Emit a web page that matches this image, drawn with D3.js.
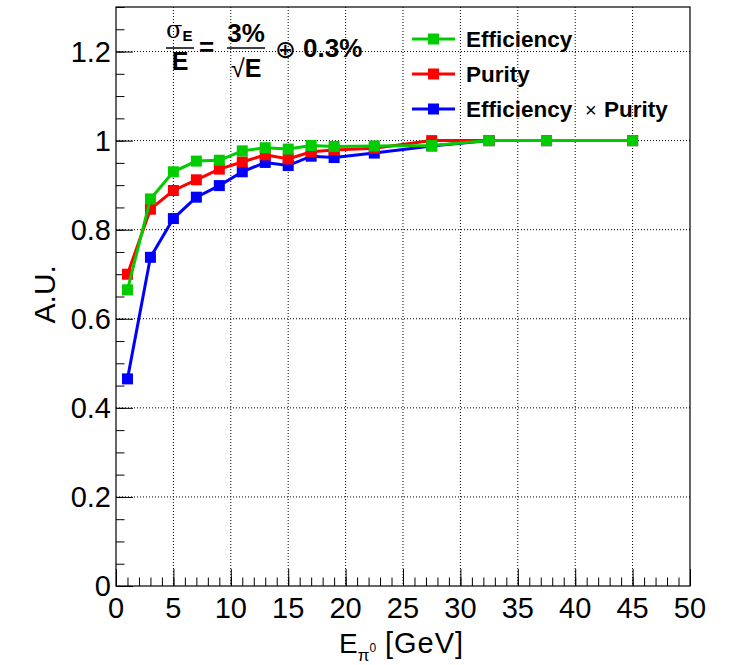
<!DOCTYPE html>
<html>
<head>
<meta charset="utf-8">
<script src="https://cdn.jsdelivr.net/npm/d3@7"></script>
<style>
  body { margin: 0; background: #fff; }
  svg { display: block; font-family: "Liberation Sans", Arial, Helvetica, sans-serif; }
</style>
</head>
<body>
<div class="chart"></div>
<script>
// values
const energy     = [1, 3, 5, 7, 9, 11, 13, 15, 17, 19, 22.5, 27.5, 32.5, 37.5, 45];
const efficiency = [0.665, 0.869, 0.930, 0.954, 0.956, 0.977, 0.984, 0.981, 0.989, 0.987, 0.988, 0.989, 1, 1, 1];
const purity     = [0.700, 0.846, 0.888, 0.912, 0.936, 0.952, 0.968, 0.959, 0.975, 0.979, 0.983, 1.0, 1, 1, 1];
const effPurity  = [0.465, 0.738, 0.825, 0.873, 0.899, 0.930, 0.951, 0.944, 0.965, 0.962, 0.972, 0.988, 1, 1, 1];

const xTicks = [0, 5, 10, 15, 20, 25, 30, 35, 40, 45, 50];
const yTicks = [0, 0.2, 0.4, 0.6, 0.8, 1, 1.2];
const legendLabels = ["Efficiency", "Purity", "Efficiency × Purity"];

const width = 734;
const height = 665;
const margin = { top: 7, right: 44, bottom: 79, left: 116 };
const innerWidth = width - margin.left - margin.right;
const innerHeight = height - margin.top - margin.bottom;

// drawing order: green ends up on top
const series = [
    { name: legendLabels[2], values: effPurity, color: "#0000ff" },
    { name: legendLabels[1], values: purity, color: "#ff0000" },
    { name: legendLabels[0], values: efficiency, color: "#00cc00" },
];

const xScale = d3.scaleLinear().domain([0, 50]).range([0, innerWidth]);
const yScale = d3.scaleLinear().domain([0, 1.3]).range([innerHeight, 0]);

const svg = d3.select("div.chart")
    .append("svg")
    .attr("width", width)
    .attr("height", height);

const g = svg.append("g").attr("transform", `translate(${margin.left},${margin.top})`);

// dotted grid
const grid = g.append("g").attr("class", "grid");
grid.selectAll("line.gx").data(xTicks.slice(1, -1)).join("line").attr("class", "gx")
    .attr("x1", d => xScale(d)).attr("x2", d => xScale(d))
    .attr("y1", 0).attr("y2", innerHeight);
grid.selectAll("line.gy").data(yTicks.slice(1)).join("line").attr("class", "gy")
    .attr("x1", 0).attr("x2", innerWidth)
    .attr("y1", d => yScale(d)).attr("y2", d => yScale(d));
grid.selectAll("line")
    .attr("stroke", "#000").attr("stroke-width", 1).attr("stroke-dasharray", "1,2");

// ticks point inwards like ROOT; minor first, then major
function ticksOnly(axis, values, size) {
    return a => a.call(axis.tickValues(values).tickSize(-size).tickFormat(""))
        .call(s => s.select(".domain").remove())
        .call(s => s.selectAll("text").remove())
        .call(s => s.selectAll("line").attr("stroke", "#000"));
}
g.append("g").attr("transform", `translate(0,${innerHeight})`)
    .call(ticksOnly(d3.axisBottom(xScale), d3.range(0, 51, 1), 8.5));
g.append("g")
    .call(ticksOnly(d3.axisLeft(yScale), d3.range(0, 27).map(i => i * 0.05), 8.5));
g.append("g").attr("transform", `translate(0,${innerHeight})`)
    .call(ticksOnly(d3.axisBottom(xScale), xTicks, 17));
g.append("g")
    .call(ticksOnly(d3.axisLeft(yScale), yTicks, 17));

// tick labels
const fmt = d3.format("~g");
g.append("g").selectAll("text").data(xTicks).join("text")
    .attr("x", d => xScale(d))
    .attr("y", innerHeight + 32)
    .attr("text-anchor", "middle")
    .attr("font-size", 29)
    .text(fmt);
g.append("g").selectAll("text").data(yTicks).join("text")
    .attr("x", -5)
    .attr("y", d => yScale(d) + 10)
    .attr("text-anchor", "end")
    .attr("font-size", 29)
    .text(fmt);

// frame
g.append("rect")
    .attr("width", innerWidth).attr("height", innerHeight)
    .attr("fill", "none").attr("stroke", "#000").attr("stroke-width", 1.2);

// series
const line = d3.line().x((d, i) => xScale(energy[i])).y(d => yScale(d));
const marker = 11;
series.forEach(s => {
    g.append("path")
        .datum(s.values)
        .attr("d", line)
        .attr("fill", "none")
        .attr("stroke", s.color)
        .attr("stroke-width", 3);
    g.append("g").selectAll("rect").data(s.values).join("rect")
        .attr("x", (d, i) => xScale(energy[i]) - marker / 2)
        .attr("y", d => yScale(d) - marker / 2)
        .attr("width", marker).attr("height", marker)
        .attr("fill", s.color);
});

// axis titles
svg.append("text")
    .attr("transform", `translate(55,${margin.top + yScale(0.655)}) rotate(-90)`)
    .attr("text-anchor", "middle")
    .attr("font-size", 30)
    .text("A.U.");

const xt = svg.append("text")
    .attr("x", 339).attr("y", 653)
    .attr("font-size", 28);
xt.append("tspan").text("E");
xt.append("tspan").attr("font-size", 17).attr("dy", 8).text("π");
xt.append("tspan").attr("font-size", 12).attr("dy", -9).text("0");
svg.append("text")
    .attr("x", 385).attr("y", 653)
    .attr("font-size", 29)
    .attr("letter-spacing", 1)
    .text("[GeV]");

// legend
const legend = svg.append("g").attr("transform", "translate(412,39)");
const legendRows = [series[2], series[1], series[0]];
legendRows.forEach((s, i) => {
    const row = legend.append("g").attr("transform", `translate(0,${i * 35})`);
    row.append("line").attr("x1", 0).attr("x2", 43).attr("stroke", s.color).attr("stroke-width", 3);
    row.append("rect").attr("x", 16).attr("y", -5.5).attr("width", marker).attr("height", marker).attr("fill", s.color);
    const t = row.append("text").attr("x", 54).attr("y", 8).attr("font-size", 22.5).attr("font-weight", "bold");
    const parts = s.name.split(" × ");
    t.append("tspan").text(parts[0]);
    if (parts.length > 1) {
        t.append("tspan").attr("x", 173).attr("font-weight", "normal").attr("font-size", 20).text("×");
        t.append("tspan").attr("x", 192).text(parts[1]);
    }
});

// resolution formula
const f = svg.append("g").attr("font-weight", "bold");
const sig = f.append("text").attr("x", 166).attr("y", 38).attr("font-size", 24);
sig.append("tspan").attr("font-family", "DejaVu Serif, serif").attr("font-weight", "normal").text("σ");
sig.append("tspan").attr("font-size", 15).attr("dy", 3).text("E");
f.append("line").attr("x1", 166).attr("x2", 194).attr("y1", 48).attr("y2", 48).attr("stroke", "#000").attr("stroke-width", 1.5);
f.append("text").attr("x", 180).attr("y", 70).attr("text-anchor", "middle").attr("font-size", 25).text("E");
f.append("text").attr("x", 199).attr("y", 56).attr("font-size", 26).text("=");
f.append("text").attr("x", 246).attr("y", 42).attr("text-anchor", "middle").attr("font-size", 26).text("3%");
f.append("line").attr("x1", 227).attr("x2", 265).attr("y1", 48).attr("y2", 48).attr("stroke", "#000").attr("stroke-width", 1.5);
const sq = f.append("text").attr("x", 231).attr("y", 77).attr("font-size", 25);
sq.append("tspan").attr("font-weight", "normal").text("√");
sq.append("tspan").text("E");
f.append("text").attr("x", 275).attr("y", 58).attr("font-family", "DejaVu Sans, sans-serif").attr("font-weight", "normal").attr("font-size", 25).text("⊕");
f.append("text").attr("x", 303).attr("y", 57).attr("font-size", 26).text("0.3%");
</script>
</body>
</html>
